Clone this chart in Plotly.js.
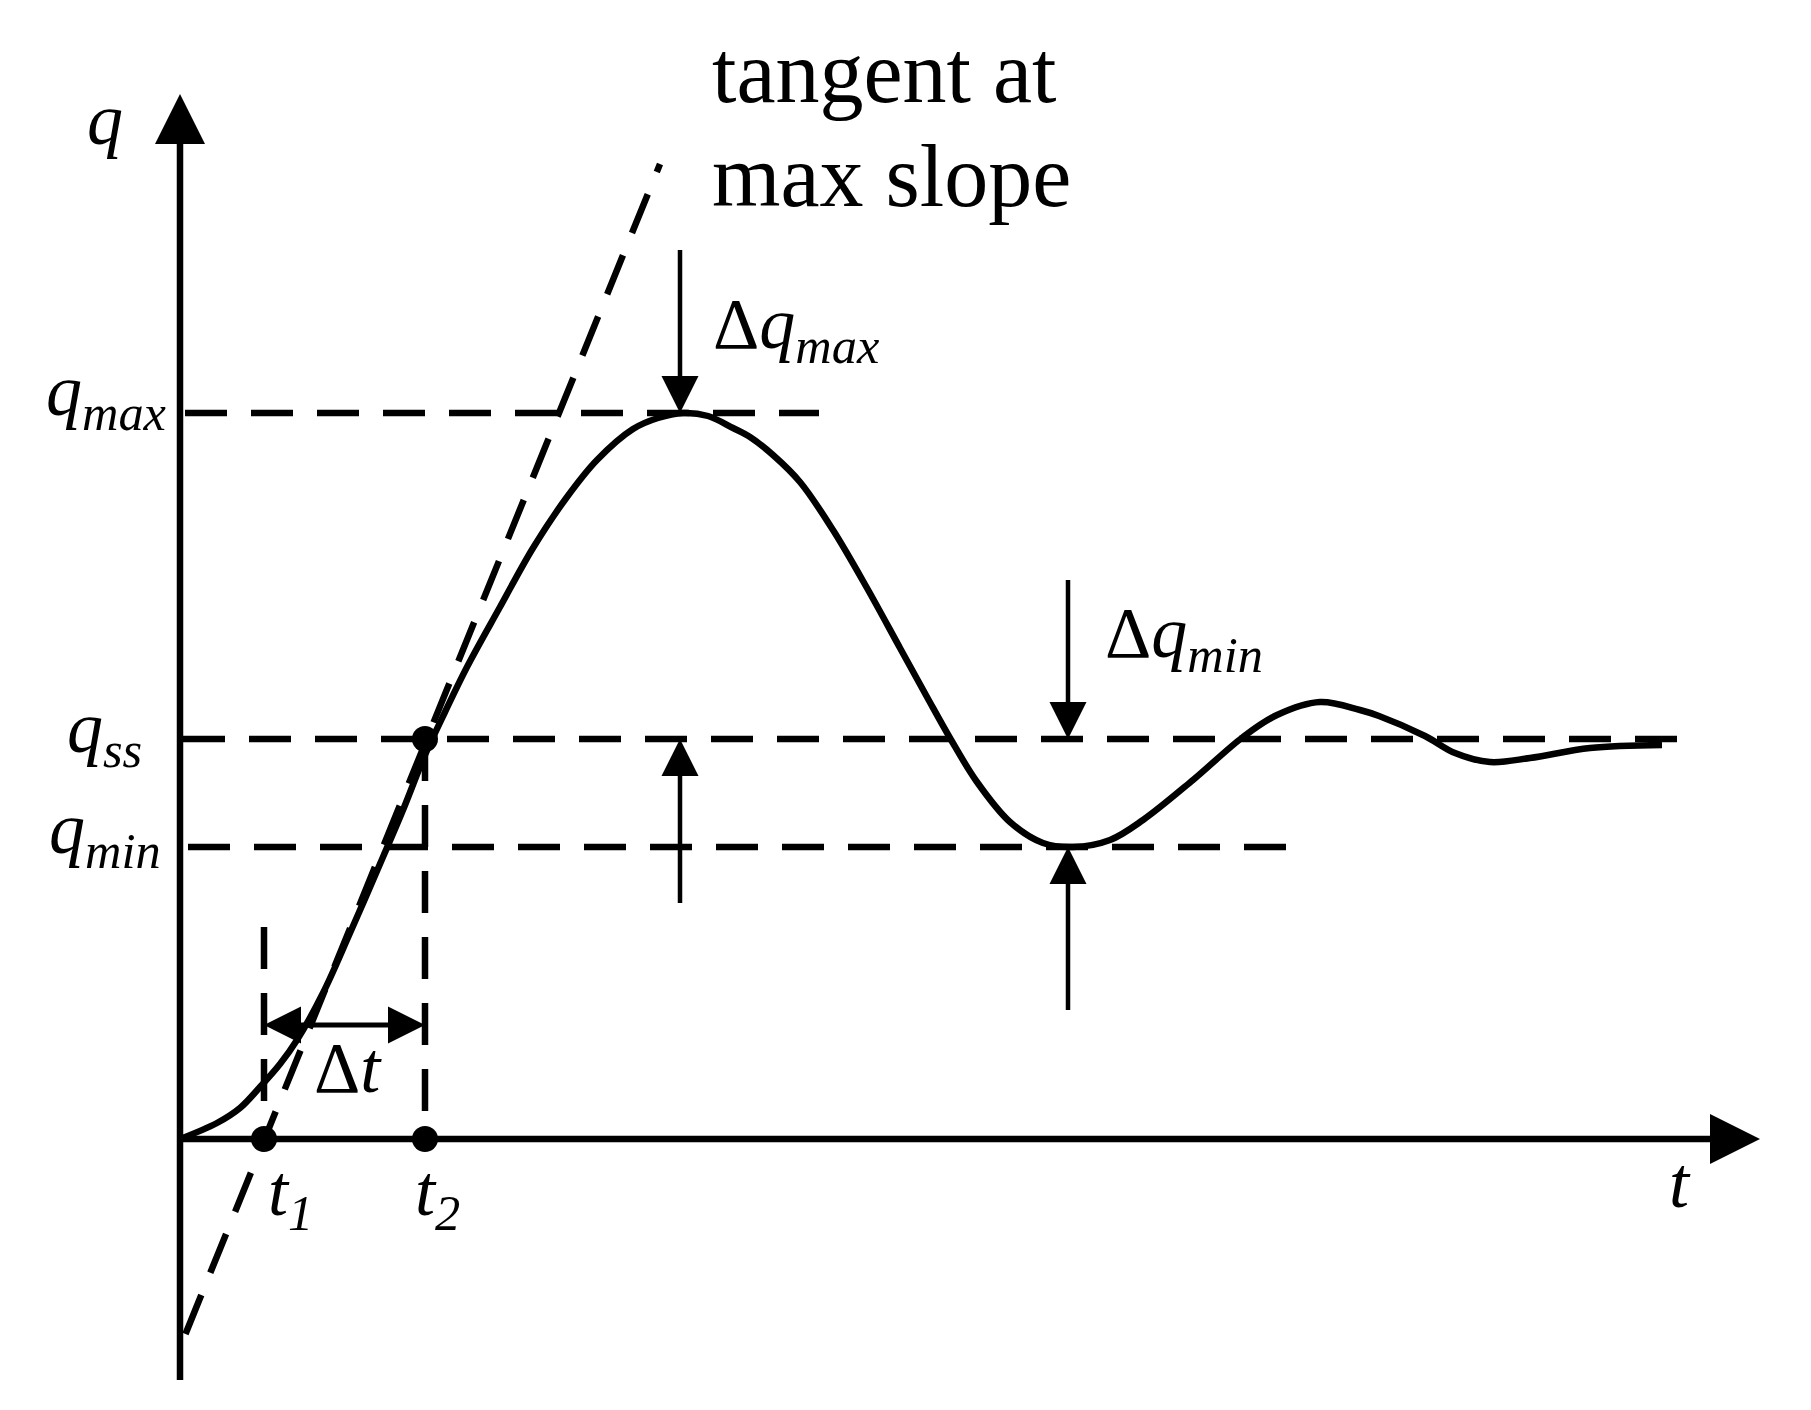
<!DOCTYPE html>
<html>
<head>
<meta charset="utf-8">
<script src="https://cdn.plot.ly/plotly-3.0.1.min.js"></script>
<style>html,body{margin:0;padding:0;background:#fff;}</style>
</head>
<body>
<div id="chart" style="width:1811px;height:1410px;"></div>
<script>
// ---------- data (schematic units: q_ss = 1) ----------
const curveT = [0, 0.37, 0.60, 0.80, 1.00, 1.17, 1.43, 1.70, 2.03, 2.23, 2.45, 2.65, 2.87,
  3.20, 3.53, 3.87, 4.17, 4.53, 4.78, 5.03, 5.28, 5.53, 5.70, 5.93, 6.20, 6.53, 6.87, 7.20, 7.47,
  7.70, 7.97, 8.30, 8.63, 8.93, 9.30, 9.63, 10.13, 10.63, 10.97, 11.40, 11.80, 11.99, 12.45,
  12.75, 13.10, 13.50, 14.10, 14.82];
const curveQ = [0, 0.04, 0.0775, 0.13, 0.1875, 0.2475, 0.365, 0.515, 0.705, 0.8225, 0.96, 1.0675, 1.18,
  1.33, 1.4775, 1.605, 1.6975, 1.775, 1.8025, 1.815, 1.8075, 1.7775, 1.755, 1.71, 1.6425, 1.5225, 1.3775, 1.2275, 1.105,
  1.0025, 0.8925, 0.7925, 0.74, 0.73, 0.7475, 0.7975, 0.8975, 1.005, 1.06, 1.0925, 1.0725, 1.0575, 1.0075,
  0.965, 0.9425, 0.9525, 0.9775, 0.985];

const qMax = 1.815, qSS = 1.0, qMin = 0.73;
const t1 = 0.84, t2 = 2.45;

const levelValues = [qMax, qSS, qMin];
const levelStartT = [0.05, 0.03, 0.08];
const levelEndT = [6.39, 15.06, 11.19];
const levelLabels = ['<i>q</i><sub><i>max</i></sub>', '<i>q</i><sub><i>ss</i></sub>', '<i>q</i><sub><i>min</i></sub>'];

const tangentT = [0.055, 4.80];
const tangentQ = [-0.4875, 2.4375];

const markT = [t1, t2];
const markTopQ = [0.53, qSS];
const markBottomQ = [0.0875, 0.0625];
const markLabels = ['<i>t</i><sub><i>1</i></sub>', '<i>t</i><sub><i>2</i></sub>'];

const deltaArrowT = [5.0, 5.0, 8.88, 8.88];
const deltaArrowFromQ = [2.2225, 0.59, 1.3975, 0.3225];
const deltaArrowToQ = [qMax, qSS, qSS, qMin];
const deltaTQ = 0.285;

const axisTStart = -0.03, axisTEnd = 15.8, axisQEnd = 2.6125, axisQStart = -0.6025;

// ---------- styles ----------
const W = 1811, H = 1410;
const xRange = [-1.8, 16.31], yRange = [-0.6775, 2.8475];
const pxPerT = W / (xRange[1] - xRange[0]);
const pxPerQ = H / (yRange[1] - yRange[0]);
const black = '#000';
const dash = '42px,24px';
const font = '"Liberation Serif", "Times New Roman", serif';

const traces = [];
levelValues.forEach((q, i) => {
  traces.push({x: [levelStartT[i], levelEndT[i]], y: [q, q], mode: 'lines',
    line: {color: black, width: 6.5, dash: dash}, hoverinfo: 'skip'});
});
markT.forEach((t, i) => {
  traces.push({x: [t, t], y: [markTopQ[i], markBottomQ[i]], mode: 'lines',
    line: {color: black, width: 6.5, dash: dash}, hoverinfo: 'skip'});
});
traces.push({x: tangentT, y: tangentQ, mode: 'lines',
  line: {color: black, width: 6.5, dash: dash}, hoverinfo: 'skip'});
traces.push({x: curveT, y: curveQ, mode: 'lines',
  line: {color: black, width: 6.5, shape: 'spline', smoothing: 1}, hoverinfo: 'skip'});
traces.push({x: [t1, t2, t2], y: [0, 0, qSS], mode: 'markers',
  marker: {color: black, size: 26}, hoverinfo: 'skip', cliponaxis: false});

// arrows: shaft line + arrow-shaped marker at the tip
function arrow(x0, y0, x1, y1, lw, head, both) {
  const dxp = (x1 - x0) * pxPerT, dyp = (y1 - y0) * pxPerQ;
  const len = Math.hypot(dxp, dyp);
  const ux = dxp / len, uy = dyp / len;
  const cut = head * 0.5;
  const sx0 = both ? x0 + ux * cut / pxPerT : x0;
  const sy0 = both ? y0 + uy * cut / pxPerQ : y0;
  const sx1 = x1 - ux * cut / pxPerT, sy1 = y1 - uy * cut / pxPerQ;
  traces.push({x: [sx0, sx1], y: [sy0, sy1], mode: 'lines',
    line: {color: black, width: lw}, hoverinfo: 'skip', cliponaxis: false});
  function sym(dx, dy) {
    if (Math.abs(dx) > Math.abs(dy)) return dx > 0 ? 'arrow-right' : 'arrow-left';
    return dy > 0 ? 'arrow-up' : 'arrow-down';
  }
  const xs = [x1], ys = [y1], syms = [sym(dxp, dyp)];
  if (both) { xs.push(x0); ys.push(y0); syms.push(sym(-dxp, -dyp)); }
  traces.push({x: xs, y: ys, mode: 'markers', hoverinfo: 'skip', cliponaxis: false,
    marker: {symbol: syms, size: head, color: black, line: {width: 0}}});
}
// axes
arrow(axisTStart, 0, axisTEnd, 0, 6.5, 50);
arrow(0, axisQStart, 0, axisQEnd, 6.5, 50);
// delta arrows
deltaArrowT.forEach((t, i) => arrow(t, deltaArrowFromQ[i], t, deltaArrowToQ[i], 4.5, 37));
arrow(t1, deltaTQ, t2, deltaTQ, 5, 37, true);

const ann = [];
function label(text, x, y, size) {
  ann.push({x: x, y: y, xref: 'x', yref: 'y', text: text, showarrow: false,
    xanchor: 'left', yanchor: 'top', font: {family: font, size: size, color: black}});
}
label('<i>q</i>', -0.95, 2.6525, 72);
label('<i>t</i>', 14.87, -0.005, 72);
label(levelLabels[0], -1.36, 1.975, 72);
label(levelLabels[1], -1.15, 1.1325, 72);
label(levelLabels[2], -1.33, 0.88, 72);
label('Δ<i>q</i><sub><i>max</i></sub>', 5.31, 2.1425, 72);
label('Δ<i>q</i><sub><i>min</i></sub>', 9.23, 1.37, 72);
label('Δ<i>t</i>', 1.32, 0.2825, 72);
label(markLabels[0], 0.86, -0.025, 72);
label(markLabels[1], 2.33, -0.025, 72);
label('tangent at', 5.30, 2.7935, 88);
label('max slope', 5.30, 2.5335, 88);

const hidden = {visible: false, showgrid: false, zeroline: false, fixedrange: true};
const layout = {
  width: W, height: H, margin: {l: 0, r: 0, t: 0, b: 0},
  paper_bgcolor: '#fff', plot_bgcolor: '#fff', showlegend: false,
  xaxis: Object.assign({range: xRange}, hidden),
  yaxis: Object.assign({range: yRange}, hidden),
  annotations: ann
};
Plotly.newPlot('chart', traces, layout, {staticPlot: true, displayModeBar: false});
</script>
</body>
</html>
